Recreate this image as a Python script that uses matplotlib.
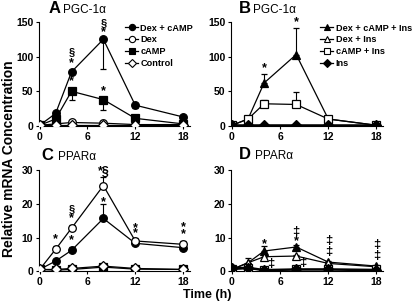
import matplotlib
matplotlib.use("Agg")
import matplotlib.pyplot as plt
from matplotlib.lines import Line2D

plt.rcParams["font.family"] = ["Liberation Sans", "DejaVu Sans"]
plt.rcParams["font.weight"] = "bold"

hours = [0, 2, 4, 8, 12, 18]

# panel A - PGC-1a
a_dex_camp = [1, 18, 78, 125, 30, 13]
a_dex_camp_lo = [0, 0, 0, 43, 4, 0]
a_dex_camp_hi = [0, 2, 3, 0, 0, 1]
a_dex = [1, 3, 5, 4, 2, 2]
a_camp = [1, 10, 50, 38, 11, 3]
a_camp_lo = [0, 0, 13, 15, 0, 0]
a_control = [1, 1, 1, 1, 1, 1]

# panel B - PGC-1a with insulin
b_dex_camp_ins = [1, 10, 62, 103, 10, 1]
b_dex_camp_ins_hi = [0, 0, 13, 38, 0, 0]
b_dex_ins = [1, 1, 1, 1, 1, 1]
b_camp_ins = [1, 10, 32, 31, 10, 1]
b_camp_ins_hi = [0, 1, 6, 18, 1, 0]
b_ins = [1, 1, 1, 1, 1, 1]

# panel C - PPARa
c_dex_camp = [0.5, 3, 6.2, 15.7, 8.3, 7]
c_dex_camp_hi = [0, 0.3, 1, 4.2, 0.4, 0.4]
c_dex = [0.5, 6.5, 12.8, 25.5, 9, 8]
c_dex_hi = [0, 1, 1, 2.5, 1, 1]
c_camp = [0.5, 0.3, 0.5, 1.2, 0.6, 0.5]
c_control = [0.5, 0.5, 0.8, 1.5, 0.8, 0.5]

# panel D - PPARa with insulin
d_dex_camp_ins = [0.5, 2.5, 6, 7.2, 2.7, 1.5]
d_dex_camp_ins_hi = [0, 0, 1.5, 0.5, 0.4, 0.3]
d_dex_ins = [0.5, 2.5, 4.3, 4.5, 2.3, 1.3]
d_dex_ins_hi = [0, 1.5, 0.4, 0.3, 0.3, 0.3]
d_camp_ins = [0.5, 0.8, 0.3, 0.5, 0.5, 0.5]
d_ins = [0.8, 1.0, 0.3, 0.5, 0.5, 0.3]

labels_left = ["Dex + cAMP", "Dex", "cAMP", "Control"]
labels_right = ["Dex + cAMP + Ins", "Dex + Ins", "cAMP + Ins", "Ins"]
styles_left = [("o", "black"), ("o", "white"), ("s", "black"), ("D", "white")]
styles_right = [("^", "black"), ("^", "white"), ("s", "white"), ("D", "black")]

ms = 5.5
fig = plt.figure(figsize=(4.18, 3.05), dpi=100)
axA = fig.add_axes([0.093, 0.587, 0.361, 0.341])
axB = fig.add_axes([0.553, 0.587, 0.364, 0.341])
axC = fig.add_axes([0.093, 0.111, 0.361, 0.330])
axD = fig.add_axes([0.553, 0.111, 0.364, 0.330])


def series(ax, y, style, lo=None, hi=None, lw=0.9):
    marker, fill = style
    if lo is None:
        lo = [0] * len(y)
    if hi is None:
        hi = [0] * len(y)
    ax.errorbar(hours, y, yerr=[lo, hi], color="black", lw=lw, marker=marker,
                ms=ms, mfc=fill, mec="black", mew=0.9, capsize=2.5,
                elinewidth=0.8, capthick=0.8, zorder=3)


def mark(ax, x, y, txt, dy, dx=0, size=9):
    ax.annotate(txt, (x, y), xytext=(dx, dy), textcoords="offset points",
                ha="center", va="center", fontsize=size, fontweight="bold",
                zorder=4)


series(axA, a_dex_camp, styles_left[0], a_dex_camp_lo, a_dex_camp_hi)
series(axA, a_dex, styles_left[1])
series(axA, a_camp, styles_left[2], a_camp_lo)
series(axA, a_control, styles_left[3])

series(axB, b_dex_camp_ins, styles_right[0], None, b_dex_camp_ins_hi)
series(axB, b_dex_ins, styles_right[1])
series(axB, b_camp_ins, styles_right[2], None, b_camp_ins_hi)
series(axB, b_ins, styles_right[3], lw=1.8)

series(axC, c_dex_camp, styles_left[0], None, c_dex_camp_hi)
series(axC, c_dex, styles_left[1], None, c_dex_hi)
series(axC, c_camp, styles_left[2])
series(axC, c_control, styles_left[3])

series(axD, d_dex_camp_ins, styles_right[0], None, d_dex_camp_ins_hi)
series(axD, d_dex_ins, styles_right[1], None, d_dex_ins_hi)
series(axD, d_camp_ins, styles_right[2])
series(axD, d_ins, styles_right[3], lw=1.8)

# significance marks (offsets in points from the data point)
mark(axA, 4, a_dex_camp[2], "*", 6.5)
mark(axA, 4, a_dex_camp[2], "§", 14, size=8)
mark(axA, 8, a_dex_camp[3], "*", 5)
mark(axA, 8, a_dex_camp[3], "§", 12, size=8)
mark(axA, 4, a_camp[2], "*", 7)
mark(axA, 8, a_camp[3], "*", 6)

mark(axB, 4, b_dex_camp_ins[2] + b_dex_camp_ins_hi[2], "*", 4.5)
mark(axB, 8, b_dex_camp_ins[3] + b_dex_camp_ins_hi[3], "*", 4.5)

mark(axC, 2, c_dex[1], "*", 7)
mark(axC, 4, c_dex[2], "*", 7)
mark(axC, 4, c_dex[2], "§", 14, size=8)
mark(axC, 4, c_dex_camp[2], "*", 7)
mark(axC, 8, c_dex[3], "*§", 10)
mark(axC, 8, c_dex_camp[3], "*", 11.5)
mark(axC, 12, c_dex[4], "*", 9.5)
mark(axC, 12, c_dex[4], "*", 5.5)
mark(axC, 18, c_dex[5], "*", 12)
mark(axC, 18, c_dex[5], "*", 7)

mark(axD, 4, d_dex_camp_ins[2], "*", 5)
mark(axD, 4, d_dex_ins[2], "‡", -5, dx=4.5, size=9.5)
mark(axD, 8, d_dex_camp_ins[3], "*", 4.5)
mark(axD, 8, d_dex_camp_ins[3], "‡", 11, size=9.5)
mark(axD, 8, d_dex_ins[3], "‡", -5, dx=4.5, size=9.5)
mark(axD, 12, d_dex_camp_ins[4], "‡", 15, size=9.5)
mark(axD, 12, d_dex_camp_ins[4], "‡", 7, size=9.5)
mark(axD, 18, d_dex_camp_ins[5], "‡", 15.5, size=9.5)
mark(axD, 18, d_dex_camp_ins[5], "‡", 7.5, size=9.5)

for ax, top in ((axA, 150), (axB, 150), (axC, 30), (axD, 30)):
    ax.set_xlim(-0.1, 18.85)
    ax.set_ylim(0, top)
    ticks = [0, top // 3, 2 * top // 3, top]
    ax.set_yticks(ticks)
    ax.set_yticklabels([str(t) for t in ticks])
    ax.set_xticks([0, 6, 12, 18])
    ax.spines["top"].set_visible(False)
    ax.spines["right"].set_visible(False)
    ax.tick_params(labelsize=7.5, length=2.5, width=0.8, pad=1.5)
    for lbl in ax.get_xticklabels() + ax.get_yticklabels():
        lbl.set_fontweight("bold")
    for s in ax.spines.values():
        s.set_linewidth(0.8)


def legend(ax, styles, labels, x0):
    handles = [Line2D([], [], color="black", lw=0.9, marker=m, ms=4.5, mfc=f,
                      mec="black", mew=0.8) for m, f in styles]
    ax.legend(handles, labels, loc="upper left", bbox_to_anchor=(x0, 0.985),
              frameon=False, handlelength=1.45, handletextpad=0.25,
              labelspacing=0.32, borderaxespad=0.0, borderpad=0.0,
              prop={"weight": "bold", "size": 6.6})


legend(axA, styles_left, labels_left, 0.57)
legend(axB, styles_right, labels_right, 0.585)

fig.text(0.117, 0.972, "A", fontsize=12, fontweight="bold", va="center")
fig.text(0.150, 0.968, "PGC-1α", fontsize=8.5, fontweight="normal", va="center")
fig.text(0.572, 0.972, "B", fontsize=12, fontweight="bold", va="center")
fig.text(0.606, 0.968, "PGC-1α", fontsize=8.5, fontweight="normal", va="center")
fig.text(0.100, 0.490, "C", fontsize=12, fontweight="bold", va="center")
fig.text(0.138, 0.484, "PPARα", fontsize=8.5, fontweight="normal", va="center")
fig.text(0.572, 0.493, "D", fontsize=12, fontweight="bold", va="center")
fig.text(0.610, 0.487, "PPARα", fontsize=8.5, fontweight="normal", va="center")

fig.text(0.021, 0.48, "Relative mRNA Concentration", rotation=90, fontsize=10,
         fontweight="bold", va="center", ha="center")
fig.text(0.497, 0.032, "Time (h)", fontsize=9, fontweight="bold", ha="center",
         va="center")

fig.savefig("out.png", dpi=100)
